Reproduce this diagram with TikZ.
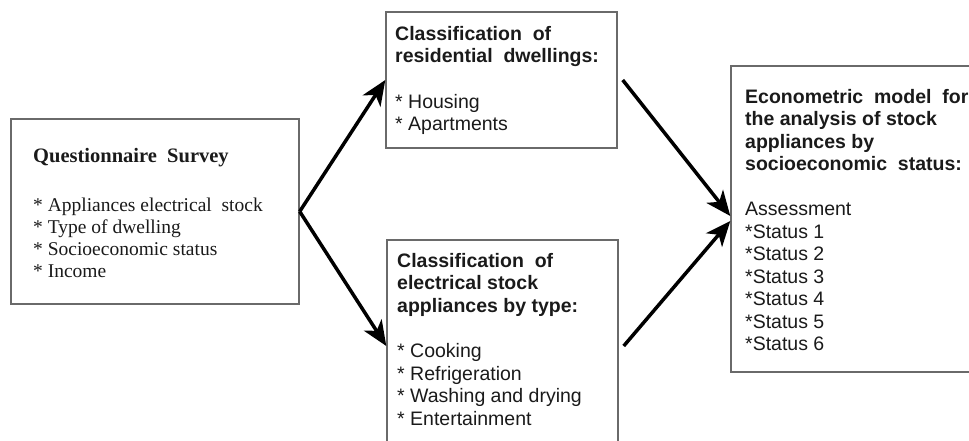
\documentclass[tikz,border=0pt]{standalone}
\usepackage{fontspec}
\setmainfont{Liberation Serif}
\setsansfont{Liberation Sans}
\usetikzlibrary{arrows.meta}
\definecolor{boxgray}{HTML}{6A6A6A}
\definecolor{txt}{HTML}{1A1A1A}
\begin{document}
\begin{tikzpicture}[x=1pt,y=-1pt,
  box/.style={draw=boxgray, line width=1.4pt, inner sep=0pt},
  sanstext/.style={anchor=north west, inner sep=0pt, align=left, text=txt,
    font=\sffamily\fontsize{19.5}{22.5}\selectfont},
  seriftext/.style={anchor=north west, inner sep=0pt, align=left, text=txt,
    font=\rmfamily\fontsize{19.5}{22}\selectfont},
  conn/.style={line width=3.5pt, draw=black, -{Stealth[length=25pt,width=21pt,inset=7pt]}}]
\useasboundingbox (0,0) rectangle (969,441);
\clip (0,0) rectangle (969,441);
% boxes
\node[box, minimum width=288, minimum height=185] (Q) at (155,211.5) {};
\node[box, minimum width=231, minimum height=136] (A) at (501.5,80) {};
\node[box, minimum width=231, minimum height=212] (B) at (502.5,346) {};
\node[box, minimum width=249, minimum height=306] (C) at (855.5,219) {};
% texts
\node[seriftext, font=\rmfamily\bfseries\fontsize{20.5}{24}\selectfont] (Qt) at (33,148) {Questionnaire\ \ Survey};
\node[seriftext] (Qb) at (33,198) {* Appliances electrical\ \ stock\\
* Type of dwelling\\
* Socioeconomic status\\
* Income};
\node[sanstext] (At) at (395,26) {\textbf{Classification\ \ of}\\
\textbf{residential\ \ dwellings:}\\[23pt]
* Housing\\
* Apartments};
\node[sanstext] (Bt) at (397,253) {\textbf{Classification\ \ of}\\
\textbf{electrical stock}\\
\textbf{appliances by type:}\\[23pt]
* Cooking\\
* Refrigeration\\
* Washing and drying\\
* Entertainment};
\node[sanstext] (Ct) at (745,89) {\textbf{Econometric\ \ model\ \ for}\\
\textbf{the analysis of stock}\\
\textbf{appliances by}\\
\textbf{socioeconomic\ \ status:}\\[22.5pt]
Assessment\\
*Status 1\\
*Status 2\\
*Status 3\\
*Status 4\\
*Status 5\\
*Status 6};
% connectors
\draw[conn] (Q.east) -- (A.west);
\draw[conn] (Q.east) -- (B.west);
\draw[conn] ([xshift=5pt]A.east) -- ([yshift=3pt]C.west);
\draw[conn] ([xshift=5pt]B.east) -- ([yshift=-2pt]C.west);
\end{tikzpicture}
\end{document}
